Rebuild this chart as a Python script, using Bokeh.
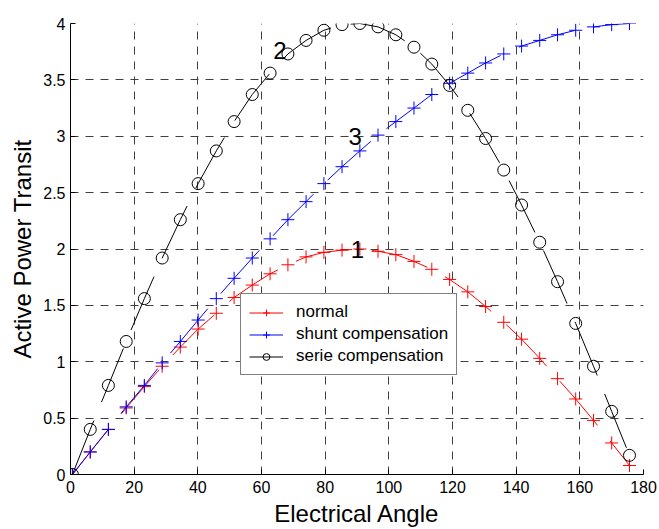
from bokeh.plotting import figure
from bokeh.models import Range1d, Legend, LegendItem
from bokeh.core.properties import value
from bokeh.embed import file_html
from bokeh.resources import INLINE

# ---- data ----
angle = [0.6, 6.2, 11.9, 17.5, 23.2, 28.8, 34.5, 40.1, 45.8, 51.4, 57.1, 62.7,
         68.3, 74.0, 79.6, 85.3, 90.9, 96.6, 102.2, 107.9, 113.5, 119.1, 124.8,
         130.4, 136.1, 141.7, 147.4, 153.0, 158.7, 164.3, 170.0, 175.6]
normal = [0.00, 0.20, 0.40, 0.59, 0.78, 0.96, 1.13, 1.29, 1.43, 1.57, 1.68, 1.78,
          1.86, 1.93, 1.97, 1.99, 2.00, 1.98, 1.95, 1.89, 1.82, 1.73, 1.62,
          1.49, 1.35, 1.20, 1.03, 0.85, 0.67, 0.48, 0.28, 0.08]
shunt = [0.00, 0.20, 0.40, 0.60, 0.79, 0.99, 1.18, 1.37, 1.56, 1.74, 1.92, 2.09,
         2.26, 2.42, 2.58, 2.73, 2.87, 3.01, 3.13, 3.25, 3.37, 3.47, 3.56,
         3.65, 3.73, 3.80, 3.85, 3.90, 3.94, 3.97, 3.99, 4.00]
serie = [0.00, 0.40, 0.79, 1.18, 1.56, 1.92, 2.26, 2.58, 2.87, 3.13, 3.37, 3.56,
         3.73, 3.85, 3.94, 3.99, 4.00, 3.97, 3.90, 3.79, 3.64, 3.45, 3.23,
         2.98, 2.70, 2.39, 2.06, 1.71, 1.34, 0.96, 0.56, 0.17]
series_names = ["normal", "shunt compensation", "serie compensation"]

x_ticks = [0, 20, 40, 60, 80, 100, 120, 140, 160, 180]
y_ticks = [0, 0.5, 1, 1.5, 2, 2.5, 3, 3.5, 4]
y_tick_labels = ["0", "0.5", "1", "1.5", "2", "2.5", "3", "3.5", "4"]

curve_tags = ["1", "2", "3"]
tag_x = [88.0, 63.7, 87.3]
tag_y = [2.0, 3.76, 3.0]

FONT = "Liberation Sans"

p = figure(width=659, height=529, output_backend="svg", toolbar_location=None,
           x_range=Range1d(0, 180), y_range=Range1d(0, 4),
           min_border_left=70, min_border_right=16, min_border_top=23,
           min_border_bottom=53)
p.outline_line_color = None
p.background_fill_color = "white"
p.border_fill_color = "white"

# grid
for g in (p.xgrid, p.ygrid):
    g.grid_line_color = "#404040"
    g.grid_line_dash = "8 7"
    g.grid_line_width = 1

# axes
p.xaxis.ticker = x_ticks
p.yaxis.ticker = y_ticks
p.yaxis.major_label_overrides = {t: l for t, l in zip(y_ticks, y_tick_labels)}
for ax in (p.xaxis, p.yaxis):
    ax.axis_line_color = "black"
    ax.axis_line_width = 1
    ax.major_tick_in = 5
    ax.major_tick_out = 0
    ax.minor_tick_line_color = None
    ax.major_tick_line_color = "black"
    ax.major_label_text_font = FONT
    ax.major_label_text_font_size = "16px"
    ax.major_label_text_color = "black"
    ax.axis_label_text_font = FONT
    ax.axis_label_text_font_size = "24px"
    ax.axis_label_text_font_style = "normal"
    ax.axis_label_text_color = "black"
p.xaxis.axis_label = "Electrical Angle"
p.yaxis.axis_label = "Active Power Transit"
p.xaxis.major_label_standoff = 6
p.xaxis.axis_label_standoff = 4
p.yaxis.major_label_standoff = 5
p.yaxis.axis_label_standoff = 4

DASH = "58 20"
l1 = p.line(angle, normal, line_color="red", line_width=1, line_dash=DASH)
m1 = p.scatter(angle, normal, marker="cross", size=13, line_color="red", line_width=1)
l2 = p.line(angle, shunt, line_color="blue", line_width=1, line_dash=DASH)
m2 = p.scatter(angle, shunt, marker="cross", size=13, line_color="blue", line_width=1)
l3 = p.line(angle, serie, line_color="black", line_width=1, line_dash=DASH)
m3 = p.scatter(angle, serie, marker="circle", size=12, line_color="black",
               fill_color=None, line_width=1)

p.text(x=tag_x, y=tag_y, text=curve_tags, text_font=value(FONT),
       text_font_size="24px", text_color="black", text_align="left",
       text_baseline="middle")

legend = Legend(items=[LegendItem(label=series_names[0], renderers=[l1, m1]),
                       LegendItem(label=series_names[1], renderers=[l2, m2]),
                       LegendItem(label=series_names[2], renderers=[l3, m3])],
                location=(170, 99))
legend.label_text_font = FONT
legend.label_text_font_size = "17px"
legend.label_text_color = "black"
legend.border_line_color = "black"
legend.border_line_width = 1
legend.background_fill_alpha = 1
legend.padding = 8
legend.spacing = 2
legend.margin = 0
legend.glyph_width = 34
legend.glyph_height = 17
legend.label_height = 17
legend.label_standoff = 13
p.add_layout(legend)

open("out.html", "w").write(file_html(p, INLINE))
